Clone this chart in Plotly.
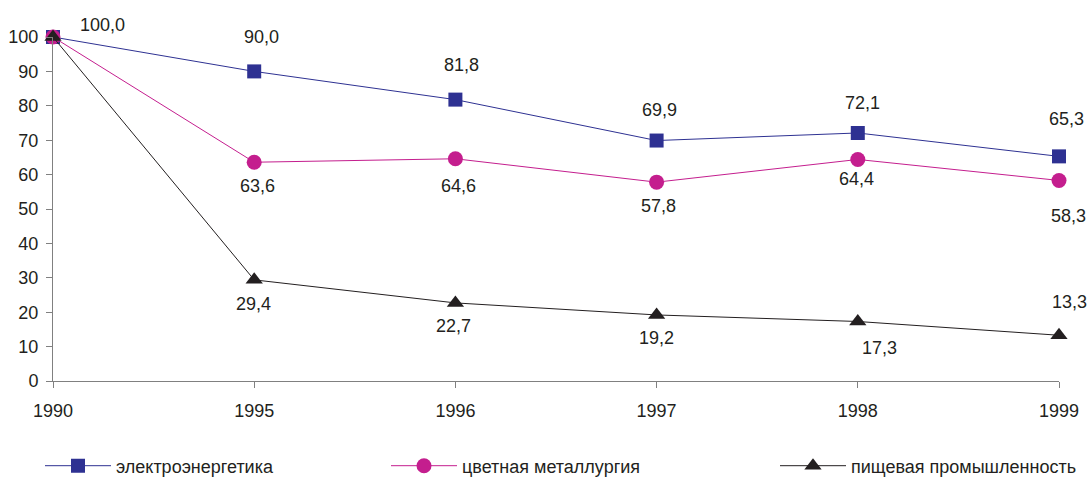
import plotly.graph_objects as go

years = ["1990", "1995", "1996", "1997", "1998", "1999"]
elec = [100.0, 90.0, 81.8, 69.9, 72.1, 65.3]
metal = [100.0, 63.6, 64.6, 57.8, 64.4, 58.3]
food = [100.0, 29.4, 22.7, 19.2, 17.3, 13.3]
names = ["электроэнергетика", "цветная металлургия", "пищевая промышленность"]

# label offsets in pixels (dx, dy screen-down); None = no label
elec_off = [(49, -12), (7, -34), (6, -35), (3, -31), (5, -30), (7, -37)]
metal_off = [None, (3, 24), (3, 27), (2, 24), (-1, 20), (9, 36)]
food_off = [None, (-1, 24), (-2, 23), (0, 23), (22, 27), (10, -33)]

xs = list(range(len(years)))
W, H = 1088, 477
L, R, T, B = 53, 29, 37, 96

series = [
    (names[0], elec, "#2E3192", "square", 14, elec_off, "legend", 40),
    (names[1], metal, "#C41E8E", "circle", 15, metal_off, "legend2", 386),
    (names[2], food, "#231F20", "triangle-up", 15, food_off, "legend3", 775),
]

fig = go.Figure()
annotations = []
for name, vals, col, sym, msz, offs, lg, lx in series:
    fig.add_trace(go.Scatter(
        x=xs, y=vals, name=name, mode="lines+markers",
        line=dict(color=col, width=1),
        marker=dict(symbol=sym, size=msz, color=col),
        cliponaxis=False, legend=lg, showlegend=True,
    ))
    for x, v, o in zip(xs, vals, offs):
        if o is None:
            continue
        annotations.append(dict(
            x=x, y=v, xref="x", yref="y", text=f"{v:.1f}".replace(".", ","),
            showarrow=False, xshift=o[0], yshift=-o[1],
            font=dict(family="Liberation Sans, Arial", size=18, color="#231F20"),
        ))

def legend_cfg(px):
    return dict(
        xref="container", yref="container",
        x=px / W, xanchor="left", y=1 - 466 / H, yanchor="middle",
        orientation="h", bgcolor="rgba(0,0,0,0)", borderwidth=0,
        itemwidth=66, visible=True,
        font=dict(family="Liberation Sans, Arial", size=18, color="#231F20"),
    )

fig.update_layout(
    width=W, height=H, showlegend=True,
    margin=dict(l=L, r=R, t=T, b=B, autoexpand=False),
    plot_bgcolor="white", paper_bgcolor="white",
    font=dict(family="Liberation Sans, Arial", size=18, color="#231F20"),
    annotations=annotations,
    legend=legend_cfg(series[0][7]),
    legend2=legend_cfg(series[1][7]),
    legend3=legend_cfg(series[2][7]),
    xaxis=dict(
        range=[0, len(years) - 1], tickvals=xs, ticktext=years,
        showgrid=False, zeroline=False, showline=True, linecolor="#808080", linewidth=1,
        ticks="outside", ticklen=6, tickcolor="#808080", ticklabelstandoff=7,
    ),
    yaxis=dict(
        range=[0, 100], dtick=10, showgrid=False, zeroline=False,
        showline=True, linecolor="#808080", linewidth=1,
        ticks="outside", ticklen=6, tickcolor="#808080", ticklabelstandoff=4,
    ),
)

fig.write_html("out.html", config={"displayModeBar": False},
               post_script="document.body.style.margin='0';")
